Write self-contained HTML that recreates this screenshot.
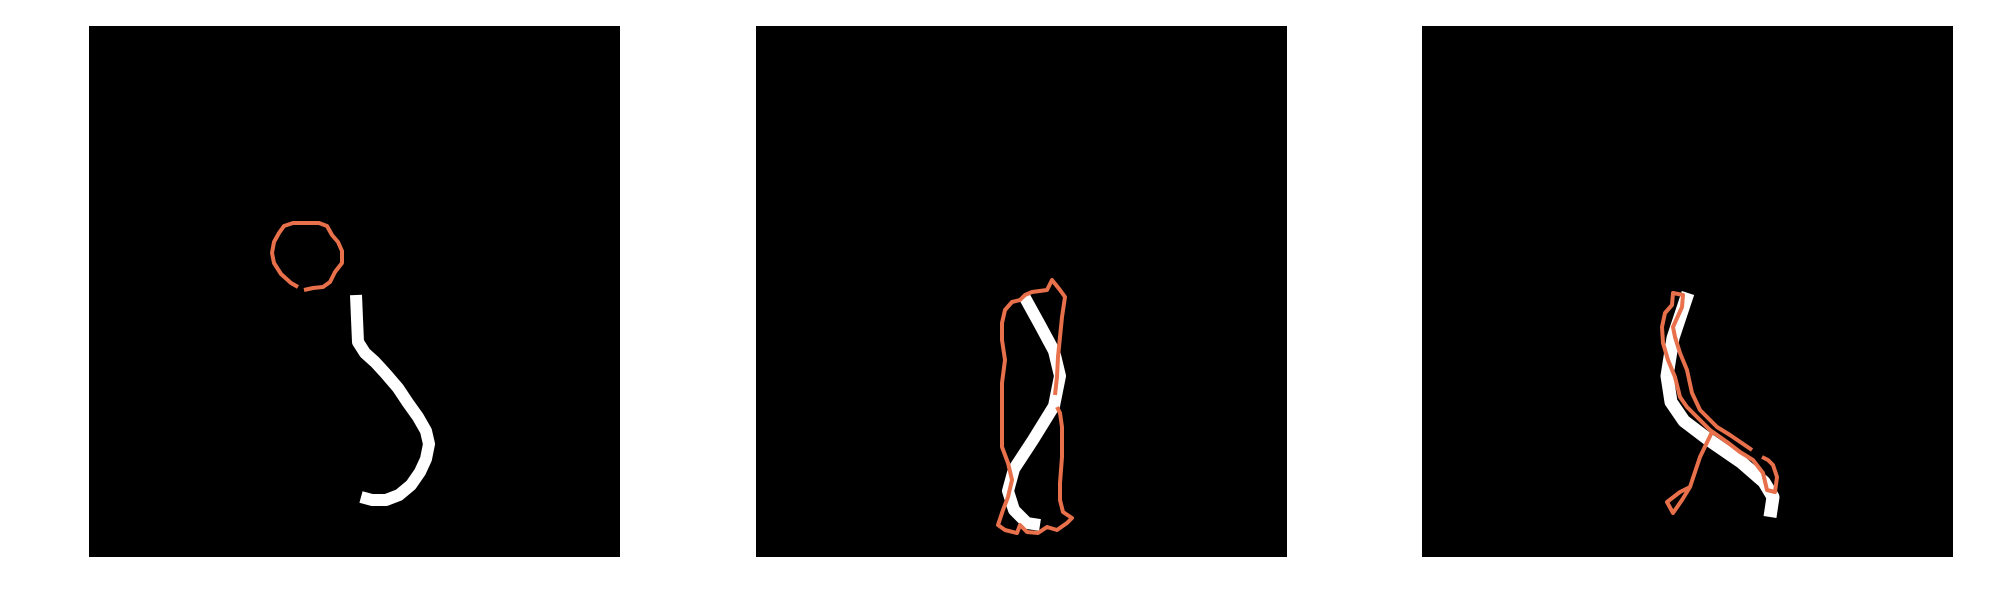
<!DOCTYPE html>
<html><head><meta charset="utf-8"><style>html,body{margin:0;padding:0;background:#fff}svg{display:block}</style></head>
<body>
<svg id="chart" width="2000" height="600" viewBox="0 0 2000 600" xmlns="http://www.w3.org/2000/svg"></svg>
<script>
const panelOrigins = [[89,26],[756,26],[1422,26]];
const panelSize = 531;
const whiteP1 = [[267,269],[268,293],[269,316],[276,327],[286,336],[297,348],[309,362],[319,377],[329,391],[337,405],[340,418],[337,433],[331,446],[322,459],[310,469],[297,474],[283,474],[272,471]];
const orangeP1 = [[209,261],[202,257],[192,248],[185,237],[183,227],[185,216],[190,207],[195,200],[204,197],[217,197],[230,197],[238,200],[243,209],[249,216],[253,225],[253,237],[246,246],[241,256],[234,261],[224,262],[215,264]];
const whiteP2 = [[268,270],[284,299],[298,325],[304,350],[298,380],[277,414],[258,443],[252,465],[258,484],[271,497],[284,499]];
const orangeP2 = [[299,369],[301,351],[302,331],[304,311],[306,291],[309,271],[304,264],[296,254],[291,264],[276,266],[269,269],[264,274],[256,276],[249,284],[246,297],[246,314],[249,334],[246,357],[246,391],[246,421],[252,437],[256,454],[252,471],[247,484],[242,499],[249,504],[261,507],[264,499],[271,506],[282,507],[291,501],[301,504],[311,497],[316,492],[307,486],[304,474],[304,457],[306,431],[306,401],[304,387],[301,381]];
const whiteP3 = [[266,267],[251,312],[245,350],[249,376],[262,395],[287,414],[319,436],[342,456],[351,471],[348,491]];
const orangeP3a = [[330,424],[308,409],[295,401],[278,384],[270,367],[265,344],[258,327],[253,311],[251,301],[260,281],[261,269],[251,267],[250,279],[243,287],[240,301],[241,317],[246,334],[253,351],[258,371],[265,381],[275,391],[288,404],[305,416],[318,426],[331,434],[341,447],[345,464],[353,466],[355,451],[351,439],[346,434],[340,431]];
const orangeP3b = [[290,406],[278,431],[268,461],[258,466],[245,476],[251,487],[260,474],[268,461]];

const NS = 'http://www.w3.org/2000/svg';
const svg = document.getElementById('chart');
function xs(p, v){ return panelOrigins[p][0] + v; }
function ys(p, v){ return panelOrigins[p][1] + v; }
function pathD(p, pts){ return pts.map((q,i)=>(i?'L':'M')+xs(p,q[0]).toFixed(1)+' '+ys(p,q[1]).toFixed(1)).join(' '); }
function addLine(p, pts, color, w, name){
  const el = document.createElementNS(NS,'path');
  el.setAttribute('d', pathD(p, pts));
  el.setAttribute('fill','none');
  el.setAttribute('stroke', color);
  el.setAttribute('stroke-width', w);
  el.setAttribute('stroke-linejoin','round');
  el.setAttribute('stroke-linecap','butt');
  
  
  svg.appendChild(el);
}
panelOrigins.forEach((o,i)=>{
  const r = document.createElementNS(NS,'rect');
  r.setAttribute('x', o[0]); r.setAttribute('y', o[1]);
  r.setAttribute('width', panelSize); r.setAttribute('height', panelSize);
  r.setAttribute('fill','#000');
  
  
  svg.appendChild(r);
});
const OR = '#e8704a';
addLine(0, whiteP1, '#fff', 12, 'ground-truth-stroke-1');
addLine(0, orangeP1, OR, 4, 'predicted-stroke-1');
addLine(1, whiteP2, '#fff', 12, 'ground-truth-stroke-2');
addLine(1, orangeP2, OR, 4, 'predicted-stroke-2');
addLine(2, whiteP3, '#fff', 13, 'ground-truth-stroke-3');
addLine(2, orangeP3a, OR, 4, 'predicted-stroke-3a');
addLine(2, orangeP3b, OR, 4, 'predicted-stroke-3b');
</script>
</body></html>
